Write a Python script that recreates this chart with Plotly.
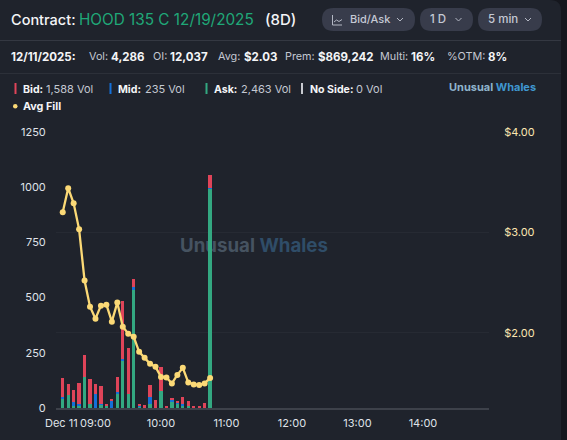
import plotly.graph_objects as go

W, H = 567, 440
BG = "#1f232c"
OUTER = "#15171e"

times = ["08:30","08:35","08:40","08:45","08:50","08:55","09:00","09:05","09:10","09:15",
         "09:20","09:25","09:30","09:35","09:40","09:45","09:50","09:55","10:00","10:05",
         "10:10","10:15","10:20","10:25","10:30","10:35","10:40","10:45"]
ask = [45,60,8,10,140,20,2,17,8,2,66,216,65,534,3,2,20,2,75,2,28,22,8,8,3,2,2,995]
mid = [5,0,21,9,0,0,63,3,0,31,8,5,0,14,10,0,30,0,0,0,10,3,10,0,0,0,0,3]
bid = [88,48,53,94,100,113,44,81,12,8,66,264,207,36,3,11,56,33,110,8,3,7,32,24,8,6,20,56]
avg_fill = [3.20,3.44,3.29,3.03,2.52,2.26,2.14,2.27,2.28,2.11,2.30,2.06,1.99,1.96,
            1.81,1.75,1.69,1.66,1.56,1.555,1.495,1.58,1.65,1.505,1.485,1.48,1.495,1.55]
left_ticks = [0,250,500,750,1000,1250]
right_ticks = [2,3,4]
right_labels = ["$2.00","$3.00","$4.00"]
hour_ticks = ["09:00","10:00","11:00","12:00","13:00","14:00"]

DAY = "2025-12-11 "
x = [DAY + t for t in times]

# plot rectangle in window pixels
PL, PR, PT, PB = 56, 489, 132, 408
px = lambda v: v / W
py = lambda v: 1 - v / H
FONT = "Inter"

fig = go.Figure()
# watermark lives on a base subplot (pixel-scaled) so that the marks are drawn over it
fig.add_scatter(x=[180], y=[247], mode="text", xaxis="x2", yaxis="y3", hoverinfo="skip",
                text=['<b><span style="color:#465361">Unusual</span> <span style="color:#2f4d68">Whales</span></b>'],
                textposition="middle right", textfont=dict(size=18.7, family=FONT))
fig.add_bar(x=x, y=ask, name="Ask", marker_color="#33a881", marker_line_width=0, yaxis="y")
fig.add_bar(x=x, y=mid, name="Mid", marker_color="#1570d8", marker_line_width=0, yaxis="y")
fig.add_bar(x=x, y=bid, name="Bid", marker_color="#df4459", marker_line_width=0, yaxis="y")
fig.add_scatter(x=x, y=avg_fill, name="Avg Fill", mode="lines+markers", yaxis="y2",
                line=dict(color="#fbd976", width=2.3), marker=dict(color="#fbd976", size=6))

shapes = []
def rect(x0, y0, x1, y1, color, layer="below"):
    shapes.append(dict(type="rect", xref="paper", yref="paper", x0=px(x0), x1=px(x1),
                       y0=py(y0), y1=py(y1), fillcolor=color, line_width=0, layer=layer))
def pill(x0, x1, y0, y1, color):
    r = (y1 - y0) / 2
    X, Y = px, py
    p = (f"M {X(x0+r)} {Y(y0)} L {X(x1-r)} {Y(y0)} Q {X(x1)} {Y(y0)} {X(x1)} {Y(y0+r)} "
         f"Q {X(x1)} {Y(y1)} {X(x1-r)} {Y(y1)} L {X(x0+r)} {Y(y1)} "
         f"Q {X(x0)} {Y(y1)} {X(x0)} {Y(y0+r)} Q {X(x0)} {Y(y0)} {X(x0+r)} {Y(y0)} Z")
    shapes.append(dict(type="path", path=p, xref="paper", yref="paper", fillcolor=color,
                       line_width=0, layer="below"))

# panel with rounded top-right corner
shapes.append(dict(type="path", xref="paper", yref="paper", fillcolor=BG, line_width=0, layer="below",
                   path=f"M 0 0 L 0 1 L {px(550)} 1 Q {px(561)} 1 {px(561)} {py(11)} L {px(561)} 0 Z"))
rect(0, 40, 561, 41, "#343842")
rect(0, 73, 561, 74, "#2c3039")
pill(322, 415, 8, 31, "#383c4b")
pill(420, 473, 8, 31, "#383c4b")
pill(478, 542, 8, 31, "#383c4b")
rect(14.5, 83, 16.5, 94, "#df4459")
rect(109.5, 83, 111.5, 94, "#1570d8")
rect(205.5, 83, 207.5, 94, "#33a881")
rect(301, 83, 303, 94, "#c8cad0")
shapes.append(dict(type="circle", xref="paper", yref="paper", x0=px(13), x1=px(17.5), y0=py(108.5), y1=py(104),
                   fillcolor="#fbd976", line_width=0))
def stroke(points, color="#b4b8c4"):
    p = "M " + " L ".join(f"{px(a)} {py(b)}" for a, b in points)
    shapes.append(dict(type="path", path=p, xref="paper", yref="paper",
                       line=dict(color=color, width=1), layer="above"))
for c in (400, 458.5, 528):
    stroke([(c-3, 18), (c, 21), (c+3, 18)])
stroke([(332.5, 15), (332.5, 25), (342, 25)])
stroke([(334, 22), (336.5, 20), (339, 21.5), (342, 19.5)])

ann = []
def text(x0, y, s, size=11.5, color="#e8eaee", weight=400):
    ann.append(dict(xref="paper", yref="paper", x=px(x0), y=py(y), text=s, showarrow=False,
                    xanchor="left", yanchor="middle", borderpad=0,
                    font=dict(size=size, color=color, family=FONT, weight=weight)))
WHITE = "#f4f5f7"
SOFT = "#c4c8d2"

text(10, 20, "Contract:", 14.5, WHITE, 500)
text(78, 20, "HOOD 135 C 12/19/2025", 15.3, "#1fa878", 400)
text(264, 20, "(8D)", 15, WHITE, 500)
text(349, 19.5, "Bid/Ask", 11, "#c5c9d4", 500)
text(428.5, 19.5, "1 D", 11.5, "#c5c9d4", 500)
text(486.5, 19.5, "5 min", 11.5, "#c5c9d4", 500)

text(10, 57, "12/11/2025:", 11.5, WHITE, 700)
for lx, l, vx, v in [(88, "Vol:", 110, "4,286"), (151.5, "OI:", 169, "12,037"), (216.5, "Avg:", 243, "$2.03"),
                     (284, "Prem:", 317, "$869,242"), (379, "Multi:", 410, "16%"), (445.5, "%OTM:", 486.5, "8%")]:
    text(lx, 57, l, 10.8, SOFT)
    text(vx, 57, v, 11.5, WHITE, 700)
for lx, l, vx, v in [(21.5, "Bid:", 45, "1,588 Vol"), (117, "Mid:", 143.5, "235 Vol"),
                     (213, "Ask:", 240, "2,463 Vol"), (308.5, "No Side:", 355, "0 Vol")]:
    text(lx, 89, l, 10.6, WHITE, 700)
    text(vx, 89, v, 11, SOFT)
text(21.5, 106, "Avg Fill", 10.8, WHITE, 700)
ann.append(dict(xref="paper", yref="paper", x=px(447), y=py(87), showarrow=False, xanchor="left", yanchor="middle",
                text='<b><span style="color:#8fb4cc">Unusual</span> <span style="color:#3f97d0">Whales</span></b>',
                font=dict(size=11, family=FONT)))
text(43.5, 423, "Dec 11", 11, "#dfe2e8")

fig.update_layout(
    width=W, height=H, margin=dict(l=0, r=0, t=0, b=0, autoexpand=False), autosize=False,
    paper_bgcolor=OUTER, plot_bgcolor="rgba(0,0,0,0)",
    barmode="stack", bargap=0.4, showlegend=False,
    font=dict(family=FONT, size=11, color="#dfe2e8"),
    shapes=shapes, annotations=ann,
    xaxis=dict(anchor="y", type="date", overlaying="x2", automargin=False,
               range=[DAY + "08:23:50", DAY + "15:00:30"],
               tickmode="array", tickvals=[DAY + t for t in hour_ticks], ticktext=hour_ticks, tickangle=0,
               tickfont=dict(size=11, color="#dfe2e8"), ticks="outside", ticklen=4, tickcolor="rgba(0,0,0,0)",
               showgrid=False, showline=True, linecolor="#3d414a", linewidth=2, zeroline=False),
    yaxis=dict(range=[0, 1250], tickmode="array", tickvals=left_ticks, automargin=False, anchor="x",
               overlaying="y3", tickfont=dict(size=11, color="#dfe2e8"), showgrid=False, zeroline=False,
               ticks="outside", ticklen=7, tickcolor="rgba(0,0,0,0)", showline=False),
    yaxis2=dict(anchor="x", overlaying="y3", side="right", range=[1.25, 4.0], automargin=False,
                tickmode="array", tickvals=right_ticks, ticktext=right_labels,
                tickfont=dict(size=11, color="#fbe6b0"), showgrid=True, gridcolor="#262a33", gridwidth=1,
                zeroline=False, ticks="outside", ticklen=12, tickcolor="rgba(0,0,0,0)", showline=False),
    xaxis2=dict(domain=[px(PL), px(PR)], range=[PL, PR], visible=False, anchor="y3", fixedrange=True),
    yaxis3=dict(domain=[py(PB), py(PT)], range=[PB, PT], visible=False, anchor="x2", fixedrange=True),
)
fig.write_html("out.html", config=dict(displayModeBar=False),
               post_script="document.body.style.margin='0';document.body.style.background='%s';" % OUTER)
